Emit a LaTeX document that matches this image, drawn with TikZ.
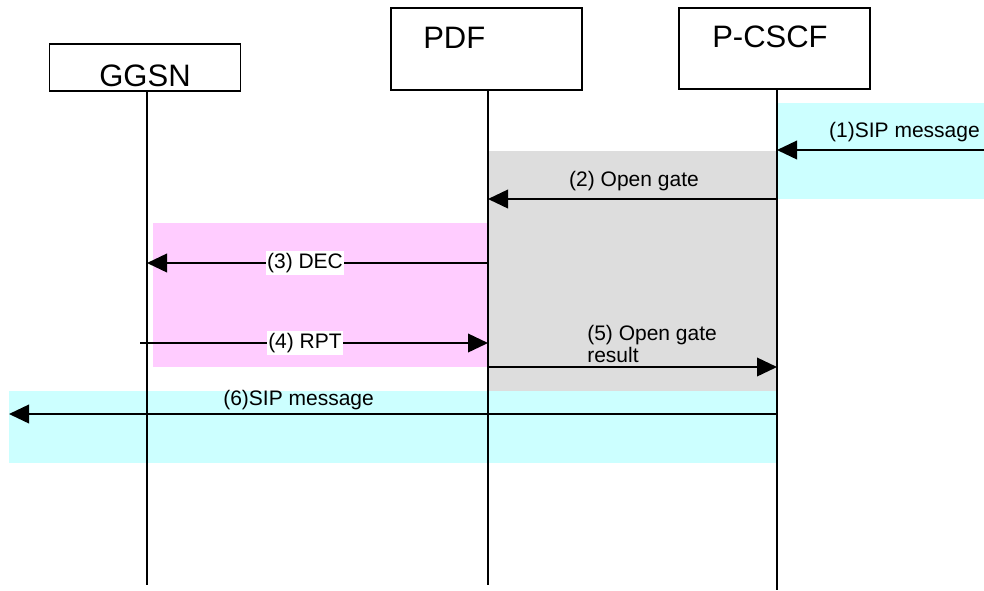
\documentclass[tikz,border=0pt]{standalone}
\usepackage{fontspec}
\setmainfont{Liberation Sans}
\usetikzlibrary{arrows.meta,positioning}
\definecolor{bandcyan}{HTML}{CCFFFF}
\definecolor{bandpink}{HTML}{FFCCFF}
\definecolor{bandgray}{HTML}{DDDDDD}

\begin{document}
\begin{tikzpicture}[x=0.75pt, y=-0.75pt,
  every node/.style = {inner sep=0pt},
  entity/.style = {draw, line width=0.8pt, minimum width=191*0.75pt},
  entitytext/.style = {font=\fontsize{23.25}{28}\selectfont},
  life/.style = {line width=0.9pt},
  msg/.style = {line width=1.2pt, -{Triangle[length=15pt, width=14pt]}},
  msgtext/.style = {font=\fontsize{15.75}{16.5}\selectfont},
  onwhite/.style = {msgtext, fill=white, inner xsep=1pt, inner ysep=2pt}]
  \useasboundingbox (0,0) rectangle (984,590);

  % coloured bands
  \fill[bandcyan] (777,103) rectangle (984,199);
  \fill[bandgray] (488,151) rectangle (777,392);
  \fill[bandpink] (153,223) rectangle (488,367);
  \fill[bandcyan] (9,391) rectangle (777,463);

  % entities
  \node[entity, minimum height=47*0.75pt] (ggsn) at (145,67.5) {};
  \node[entity, minimum height=82*0.75pt] (pdf) at (486.5,49) {};
  \node[entity, minimum height=81*0.75pt] (pcscf) at (774.5,48.5) {};
  \node[entitytext, anchor=base] (ggsn-name) at (145,86) {GGSN};
  \node[entitytext, anchor=base west] (pdf-name) at (423,48) {PDF};
  \node[entitytext, anchor=base west] (pcscf-name) at (712,47) {P-CSCF};

  % lifelines
  \coordinate (ggsn-end) at (147,585);
  \coordinate (pdf-end) at (488,585);
  \coordinate (pcscf-end) at (777,590);
  \draw[life] (ggsn.south -| ggsn-end) -- (ggsn-end);
  \draw[life] (pdf.south -| pdf-end) -- (pdf-end);
  \draw[life] (pcscf.south -| pcscf-end) -- (pcscf-end);

  % message ends
  \coordinate (outside-1) at (984,150);
  \coordinate (pcscf-1) at (777,150);
  \coordinate (pcscf-2) at (777,199);
  \coordinate (pdf-2) at (488,199);
  \coordinate (pdf-3) at (488,263);
  \coordinate (ggsn-3) at (147,263);
  \coordinate (ggsn-4) at (140,343);
  \coordinate (pdf-4) at (488,343);
  \coordinate (pdf-5) at (488,367);
  \coordinate (pcscf-5) at (777,367);
  \coordinate (pcscf-6) at (777,414);
  \coordinate (outside-6) at (9,414);

  % messages
  \draw[msg] (outside-1) -- (pcscf-1);
  \draw[msg] (pcscf-2) -- (pdf-2);
  \draw[msg] (pdf-3) -- (ggsn-3);
  \draw[msg] (ggsn-4) -- (pdf-4);
  \draw[msg] (pdf-5) -- (pcscf-5);
  \draw[msg] (pcscf-6) -- (outside-6);

  \node[msgtext, anchor=base east] (lbl-1) at (980,137) {(1)SIP message};
  \node[msgtext, anchor=base] (lbl-2) at (634,186) {(2) Open gate};
  \node[onwhite] (lbl-3) at (305,263) {(3) DEC};
  \node[onwhite] (lbl-4) at (305,343) {(4) RPT};
  \node[msgtext, align=left, anchor=base west] (lbl-5) at (587,362) {(5) Open gate\\result};
  \node[msgtext, anchor=base west] (lbl-6) at (223,405) {(6)SIP message};
\end{tikzpicture}
\end{document}
